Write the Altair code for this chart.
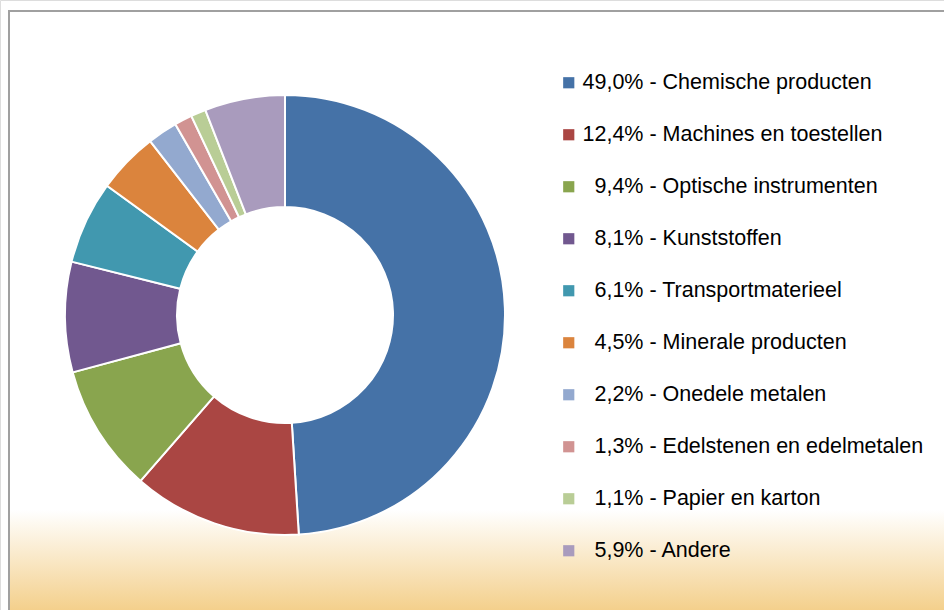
import altair as alt
import pandas as pd

categories = [
    "Chemische producten", "Machines en toestellen", "Optische instrumenten",
    "Kunststoffen", "Transportmaterieel", "Minerale producten",
    "Onedele metalen", "Edelstenen en edelmetalen", "Papier en karton", "Andere",
]
values = [49.0, 12.4, 9.4, 8.1, 6.1, 4.5, 2.2, 1.3, 1.1, 5.9]
colors = ["#4572A7", "#AA4643", "#89A54E", "#71588F", "#4198AF",
          "#DB843D", "#93A9CF", "#D19392", "#B9CD96", "#A99BBD"]

def make_label(v, c):
    s = f"{v:.1f}".replace(".", ",")
    if v < 10:
        s = "\u200b\u2007" + s
    return f"{s}% - {c}"

labels = [make_label(v, c) for v, c in zip(values, categories)]
df = pd.DataFrame({"label": labels, "value": values, "order": list(range(len(values)))})

W, H = 944, 610
CX, CY = 285, 315

bg = alt.Chart(pd.DataFrame({"a": [0]})).mark_rect(
    stroke="#A0A0A0", strokeWidth=2,
    color=alt.LinearGradient(
        gradient="linear", x1=0, y1=0, x2=0, y2=1,
        stops=[alt.GradientStop(offset=0, color="#FFFFFF"),
               alt.GradientStop(offset=0.825, color="#FFFFFF"),
               alt.GradientStop(offset=1, color="#F3CD85")],
    ),
).encode(x=alt.value(9), y=alt.value(11), x2=alt.value(980), y2=alt.value(616))

shadow = alt.Chart(pd.DataFrame({"v": [1]})).mark_arc(
    outerRadius=222, innerRadius=116, color="#707070", opacity=0.4
).encode(theta=alt.Theta("v:Q"), x=alt.value(CX + 2), y=alt.value(CY + 4))

donut = alt.Chart(df).mark_arc(
    outerRadius=220, innerRadius=108, stroke="white", strokeWidth=2
).encode(
    theta=alt.Theta("value:Q", stack=True),
    order=alt.Order("order:Q"),
    color=alt.Color(
        "label:N",
        scale=alt.Scale(domain=labels, range=colors),
        sort=labels,
        legend=alt.Legend(
            title=None, orient="none", legendX=558, legendY=72,
            symbolType="square", symbolSize=125, symbolStrokeWidth=0,
            labelFont="Liberation Sans", labelFontSize=21.5, labelColor="#000000",
            rowPadding=29, labelOffset=3, labelLimit=400,
        ),
    ),
    x=alt.value(CX), y=alt.value(CY),
)

chart = alt.layer(bg, shadow, donut).properties(
    width=W, height=H, padding=0, autosize=alt.AutoSizeParams(type="none"),
).configure_view(stroke=None).configure(background="white")

chart.save("out.html", embed_options={"renderer": "svg", "actions": False})
